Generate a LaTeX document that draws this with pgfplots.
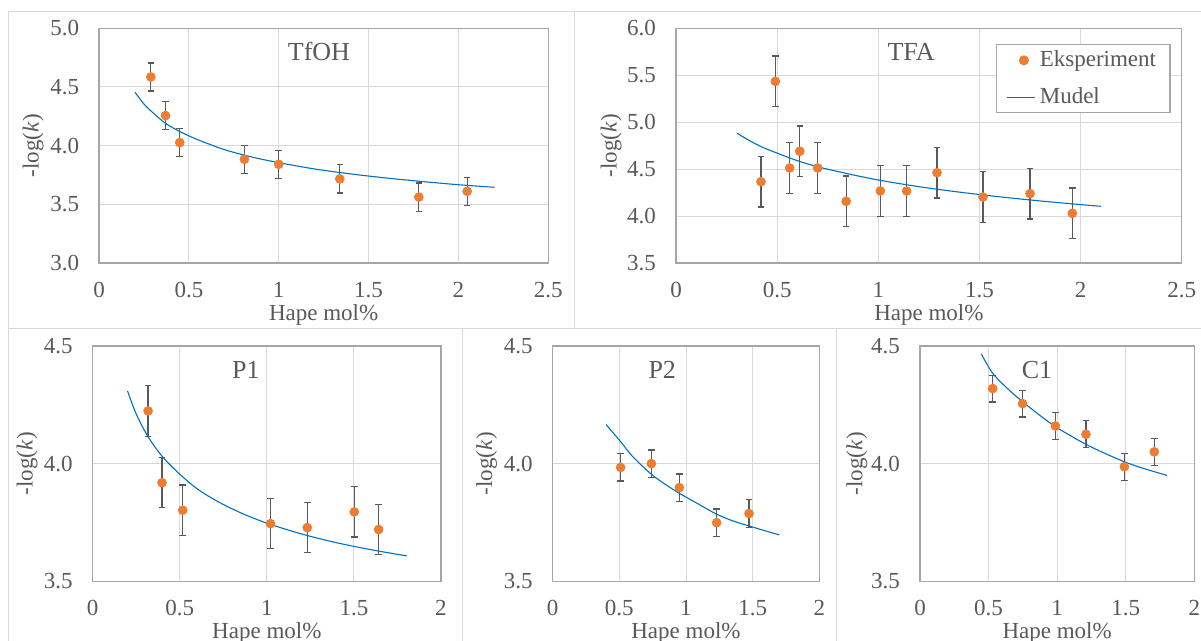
\documentclass[border=0pt]{standalone}
\usepackage{fontspec}
\setmainfont{Liberation Serif}
\usepackage{pgfplots}
\pgfplotsset{compat=1.18}

\definecolor{dotOrange}{HTML}{ED7D31}
\definecolor{fitBlue}{HTML}{0070C0}
\definecolor{errGray}{HTML}{595959}
\definecolor{gridGray}{HTML}{D9D9D9}
\definecolor{frameGray}{HTML}{A6A6A6}
\definecolor{txtGray}{HTML}{595959}

\tikzset{ttl/.style={font=\fontsize{13}{15}\selectfont, text=txtGray}}

\pgfplotsset{
  panel/.style={
    scale only axis,
    axis line style={frameGray, line width=0.6pt},
    grid=major, grid style={gridGray, line width=0.5pt},
    major tick length=0pt,
    tick label style={font=\fontsize{11.5}{13}\selectfont, text=txtGray},
    /pgf/number format/assume math mode=true,
    yticklabel style={/pgf/number format/fixed, /pgf/number format/fixed zerofill,
      /pgf/number format/precision=1, xshift=-6.5pt},
    xticklabel style={yshift=-6pt},
    label style={font=\fontsize{11.5}{13}\selectfont, text=txtGray},
    xlabel={Hape mol\%},
    ylabel={-log(\textit{k})},
    xlabel style={at={(axis description cs:0.5,0)}, anchor=center, yshift=-26pt},
  },
  dots/.style={only marks, mark=*, mark size=2.2pt, color=dotOrange,
    error bars/y dir=both, error bars/y fixed=#1,
    error bars/error bar style={errGray, line width=0.6pt},
    error bars/error mark options={rotate=90, errGray, mark size=1.65pt, line width=0.6pt}},
  fit/.style={fitBlue, line width=0.55pt, smooth, no markers,
    legend image code/.code={\draw[##1] (0cm,0cm) -- (0.5cm,0cm);}},
}

\begin{document}
\begin{tikzpicture}
\useasboundingbox (0,0) rectangle (600.5pt,320.5pt);
% chart area frames
\draw[gridGray, line width=0.5pt] (4pt,314.5pt) rectangle (287pt,156pt);
\draw[gridGray, line width=0.5pt] (287pt,314.5pt) rectangle (602.5pt,156pt);
\draw[gridGray, line width=0.5pt] (4pt,156pt) rectangle (231pt,-2pt);
\draw[gridGray, line width=0.5pt] (231pt,156pt) rectangle (418pt,-2pt);
\draw[gridGray, line width=0.5pt] (418pt,156pt) rectangle (602.5pt,-2pt);

% TfOH
\begin{axis}[panel, at={(49.55pt,189pt)}, anchor=south west,
  width=224.55pt, height=117.35pt,
  xmin=0, xmax=2.5, ymin=3, ymax=5,
  xtick={0,0.5,1,1.5,2,2.5}, ytick={3,3.5,4,4.5,5},
  ylabel style={at={(axis description cs:-0.147,0.5)}, anchor=center}]
\addplot[dots=0.12] coordinates {
  (0.288,4.585) (0.370,4.256) (0.449,4.026) (0.809,3.884)
  (1.000,3.841) (1.340,3.716) (1.780,3.562) (2.049,3.611)};
\addplot[fit] coordinates {
  (0.20,4.455) (0.25,4.354) (0.30,4.28) (0.37,4.19) (0.45,4.12) (0.55,4.05)
  (0.70,3.965) (0.85,3.903) (1.00,3.855) (1.20,3.801) (1.40,3.759)
  (1.60,3.724) (1.80,3.694) (2.00,3.667) (2.20,3.645)};
\node[ttl] at (axis cs:1.224,4.80) {TfOH};
\end{axis}

% TFA
\begin{axis}[panel, at={(338pt,189pt)}, anchor=south west,
  width=252.9pt, height=117.35pt,
  xmin=0, xmax=2.5, ymin=3.5, ymax=6,
  xtick={0,0.5,1,1.5,2,2.5}, ytick={3.5,4,4.5,5,5.5,6},
  ylabel style={at={(axis description cs:-0.1285,0.5)}, anchor=center},
  legend style={at={(rel axis cs:0.978,0.932)}, anchor=north east,
    draw=frameGray, line width=0.6pt, font=\fontsize{11.5}{13}\selectfont,
    text=txtGray, row sep=5pt, inner xsep=5pt, inner ysep=1pt,
    cells={anchor=west}}]
\addplot[dots=0.27] coordinates {
  (0.420,4.366) (0.491,5.435) (0.562,4.512) (0.612,4.690) (0.700,4.512)
  (0.841,4.157) (1.010,4.267) (1.140,4.267) (1.290,4.462) (1.517,4.203)
  (1.750,4.239) (1.959,4.029)};
\addlegendentry{Eksperiment}
\addplot[fit] coordinates {
  (0.30,4.885) (0.35,4.82) (0.42,4.74) (0.50,4.67) (0.60,4.59) (0.70,4.525)
  (0.85,4.45) (1.00,4.384) (1.20,4.313) (1.40,4.255) (1.60,4.205)
  (1.80,4.161) (2.00,4.122) (2.10,4.104)};
\addlegendentry{Mudel}
\node[ttl] at (axis cs:1.162,5.75) {TFA};
\end{axis}

% P1
\begin{axis}[panel, at={(46.35pt,29.85pt)}, anchor=south west,
  width=174.15pt, height=117.65pt,
  xmin=0, xmax=2, ymin=3.5, ymax=4.5,
  xtick={0,0.5,1,1.5,2}, ytick={3.5,4,4.5},
  ylabel style={at={(axis description cs:-0.1886,0.5)}, anchor=center}]
\addplot[dots=0.107] coordinates {
  (0.318,4.224) (0.398,3.919) (0.517,3.802) (1.021,3.745)
  (1.232,3.728) (1.502,3.795) (1.642,3.720)};
\addplot[fit] coordinates {
  (0.20,4.309) (0.25,4.211) (0.318,4.114) (0.40,4.03) (0.50,3.955)
  (0.60,3.893) (0.713,3.841) (0.85,3.791) (1.00,3.747) (1.20,3.701)
  (1.40,3.664) (1.60,3.634) (1.803,3.608)};
\node[ttl] at (axis cs:0.879,4.40) {P1};
\end{axis}

% P2
\begin{axis}[panel, at={(276.35pt,29.85pt)}, anchor=south west,
  width=133.3pt, height=117.65pt,
  xmin=0, xmax=2, ymin=3.5, ymax=4.5,
  xtick={0,0.5,1,1.5,2}, ytick={3.5,4,4.5},
  ylabel style={at={(axis description cs:-0.2476,0.5)}, anchor=center}]
\addplot[dots=0.058] coordinates {
  (0.510,3.984) (0.740,4.000) (0.950,3.898) (1.230,3.749) (1.473,3.788)};
\addplot[fit] coordinates {
  (0.40,4.166) (0.51,4.093) (0.60,4.03) (0.74,3.955) (0.85,3.91)
  (0.95,3.874) (1.10,3.826) (1.23,3.785) (1.35,3.757) (1.473,3.735)
  (1.70,3.697)};
\node[ttl] at (axis cs:0.822,4.40) {P2};
\end{axis}

% C1
\begin{axis}[panel, at={(460pt,29.85pt)}, anchor=south west,
  width=137.15pt, height=117.65pt,
  xmin=0, xmax=2, ymin=3.5, ymax=4.5,
  xtick={0,0.5,1,1.5,2}, ytick={3.5,4,4.5},
  ylabel style={at={(axis description cs:-0.2297,0.5)}, anchor=center}]
\addplot[dots=0.057] coordinates {
  (0.530,4.319) (0.748,4.255) (0.987,4.160) (1.210,4.125) (1.490,3.987) (1.708,4.050)};
\addplot[fit] coordinates {
  (0.447,4.466) (0.53,4.384) (0.64,4.318) (0.748,4.263) (0.87,4.207)
  (0.987,4.157) (1.10,4.118) (1.21,4.082) (1.35,4.043) (1.49,4.008)
  (1.60,3.985) (1.708,3.966) (1.80,3.950)};
\node[ttl] at (axis cs:0.853,4.40) {C1};
\end{axis}
\end{tikzpicture}
\end{document}
